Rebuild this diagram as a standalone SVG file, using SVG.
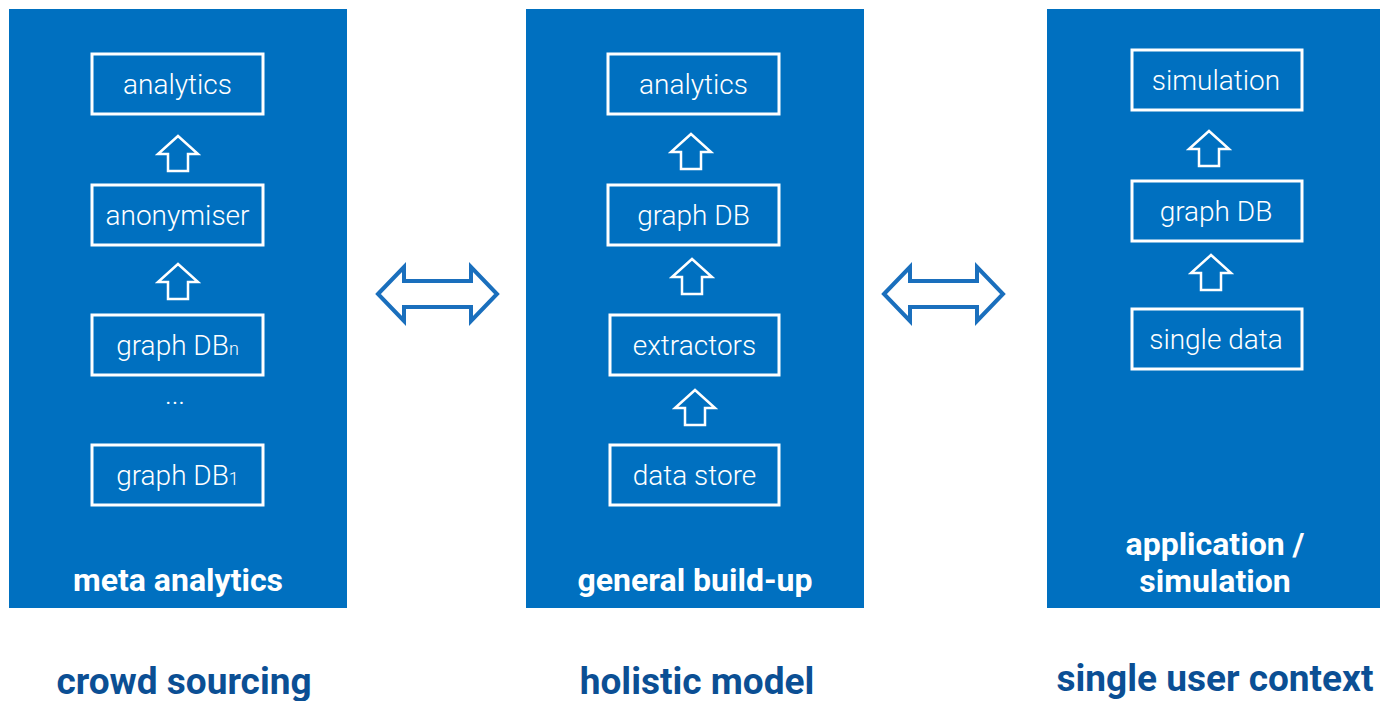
<svg xmlns="http://www.w3.org/2000/svg" width="1380" height="701" viewBox="0 0 1380 701">
  <style>
    .panel { fill: #0070c0; }
    .box { fill: none; stroke: #ffffff; stroke-width: 3; }
    .boxtext { font-family: Roboto, "Liberation Sans", sans-serif; font-weight: 300; font-size: 28px; fill: #ffffff; text-anchor: middle; }
    .sub { font-size: 18px; }
    .title { font-family: Roboto, "Liberation Sans", sans-serif; font-weight: 700; font-size: 32px; fill: #ffffff; text-anchor: middle; }
    .caption { font-family: Roboto, "Liberation Sans", sans-serif; font-weight: 700; font-size: 37px; fill: #0b4f94; text-anchor: middle; }
    .up { fill: none; stroke: #ffffff; stroke-width: 2.5; stroke-linejoin: miter; }
    .dbl { fill: none; stroke: #1a6fbd; stroke-width: 4; stroke-linejoin: miter; }
  </style>
  <defs>
    <!-- hollow upward arrow, tip at 0,0 -->
    <polygon id="uparrow" class="up" points="0,0 20,18 10,18 10,35 -10,35 -10,18 -20,18"/>
    <!-- hollow double-headed arrow, left tip at 0,0 -->
    <polygon id="dblarrow" class="dbl" points="0,0 26,-27 26,-13 93,-13 93,-27 119,0 93,27 93,13 26,13 26,27"/>
  </defs>

  <rect width="1380" height="701" fill="#ffffff"/>

  <!-- left column: crowd sourcing -->
  <g id="panel-meta">
    <rect class="panel" x="9" y="9" width="338" height="599"/>
    <text class="title" x="178" y="591">meta analytics</text>
  </g>
  <g id="meta-analytics">
    <rect class="box" x="92" y="54" width="171" height="60"/>
    <text class="boxtext" x="177.5" y="94">analytics</text>
  </g>
  <g id="meta-anonymiser">
    <rect class="box" x="92" y="185" width="171" height="60"/>
    <text class="boxtext" x="177.5" y="225">anonymiser</text>
  </g>
  <g id="meta-graphdbn">
    <rect class="box" x="92" y="315" width="171" height="60"/>
    <text class="boxtext" x="177.5" y="355">graph DB<tspan class="sub">n</tspan></text>
  </g>
  <g id="meta-dots">
    <text class="boxtext" x="175" y="404">...</text>
  </g>
  <g id="meta-graphdb1">
    <rect class="box" x="92" y="445" width="171" height="60"/>
    <text class="boxtext" x="177.5" y="485">graph DB<tspan class="sub">1</tspan></text>
  </g>

  <!-- middle column: holistic model -->
  <g id="panel-general">
    <rect class="panel" x="526" y="9" width="338" height="599"/>
    <text class="title" x="695" y="591">general build-up</text>
  </g>
  <g id="gen-analytics">
    <rect class="box" x="608" y="54" width="171" height="60"/>
    <text class="boxtext" x="693.5" y="94">analytics</text>
  </g>
  <g id="gen-graphdb">
    <rect class="box" x="608" y="185" width="171" height="60"/>
    <text class="boxtext" x="693.5" y="225">graph DB</text>
  </g>
  <g id="gen-extractors">
    <rect class="box" x="610" y="315" width="169" height="60"/>
    <text class="boxtext" x="694.5" y="355">extractors</text>
  </g>
  <g id="gen-datastore">
    <rect class="box" x="610" y="445" width="169" height="60"/>
    <text class="boxtext" x="694.5" y="485">data store</text>
  </g>

  <!-- right column: single user context -->
  <g id="panel-application">
    <rect class="panel" x="1047" y="9" width="333" height="599"/>
    <text class="title" x="1215" y="555">application /</text>
    <text class="title" x="1215" y="592">simulation</text>
  </g>
  <g id="app-simulation">
    <rect class="box" x="1132" y="50" width="170" height="60"/>
    <text class="boxtext" x="1216" y="90">simulation</text>
  </g>
  <g id="app-graphdb">
    <rect class="box" x="1132" y="181" width="170" height="60"/>
    <text class="boxtext" x="1216" y="221">graph DB</text>
  </g>
  <g id="app-singledata">
    <rect class="box" x="1132" y="309" width="170" height="60"/>
    <text class="boxtext" x="1216" y="349">single data</text>
  </g>

  <!-- connectors -->
  <g id="connectors">
    <use href="#uparrow" x="178" y="136"/>
    <use href="#uparrow" x="178" y="264"/>
    <use href="#uparrow" x="691" y="134"/>
    <use href="#uparrow" x="692" y="259"/>
    <use href="#uparrow" x="695" y="390"/>
    <use href="#uparrow" x="1209" y="131"/>
    <use href="#uparrow" x="1211" y="255"/>
    <use href="#dblarrow" x="378" y="294"/>
    <use href="#dblarrow" x="884" y="294"/>
  </g>

  <!-- captions -->
  <g id="captions">
    <text class="caption" x="184" y="694">crowd sourcing</text>
    <text class="caption" x="697" y="694">holistic model</text>
    <text class="caption" x="1215" y="691">single user context</text>
  </g>
</svg>
